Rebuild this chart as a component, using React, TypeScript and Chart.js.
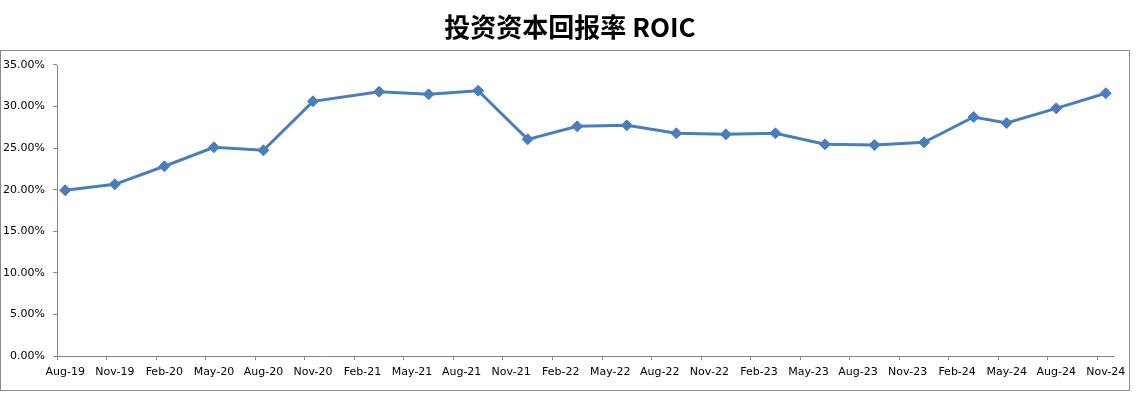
import React, { useEffect, useRef } from "react";
import { Chart, registerables } from "chart.js";

Chart.register(...registerables);

const chartTitle = "投资资本回报率 ROIC";

// x-axis tick labels (quarterly, Excel date axis with month base unit)
const xTickLabels = [
  "Aug-19", "Nov-19", "Feb-20", "May-20", "Aug-20", "Nov-20", "Feb-21", "May-21",
  "Aug-21", "Nov-21", "Feb-22", "May-22", "Aug-22", "Nov-22", "Feb-23", "May-23",
  "Aug-23", "Nov-23", "Feb-24", "May-24", "Aug-24", "Nov-24",
];

const yTickLabels = ["0.00%", "5.00%", "10.00%", "15.00%", "20.00%", "25.00%", "30.00%", "35.00%"];

// data periods (year, month) and ROIC values in %
const periods = [
  "2019-08", "2019-11", "2020-02", "2020-05", "2020-08", "2020-11", "2021-03", "2021-06",
  "2021-09", "2021-12", "2022-03", "2022-06", "2022-09", "2022-12", "2023-03", "2023-06",
  "2023-09", "2023-12", "2024-03", "2024-05", "2024-08", "2024-11",
];

const roicValues = [
  19.93, 20.65, 22.82, 25.1, 24.74, 30.63, 31.79, 31.47,
  31.91, 26.06, 27.62, 27.74, 26.78, 26.66, 26.78, 25.46,
  25.38, 25.7, 28.75, 28.02, 29.79, 31.6,
];

const axisStart = "2019-08";
const axisMonths = 64;

function monthIndex(p: string): number {
  const [y, m] = p.split("-").map(Number);
  const [y0, m0] = axisStart.split("-").map(Number);
  return (y - y0) * 12 + (m - m0);
}

const frameAndTitlePlugin = {
  id: "frameAndTitle",
  beforeDraw(chart: any) {
    const ctx = chart.ctx;
    ctx.save();
    ctx.fillStyle = "#ffffff";
    ctx.fillRect(0, 0, chart.width, chart.height);
    ctx.strokeStyle = "#8a8a8a";
    ctx.lineWidth = 1;
    ctx.strokeRect(0.5, 50.5, 1129, 340);
    ctx.fillStyle = "#000000";
    ctx.font = "bold 26px 'Noto Sans CJK SC', 'Noto Sans'";
    ctx.textAlign = "center";
    ctx.textBaseline = "middle";
    ctx.fillText(chartTitle, 570, 27);
    ctx.restore();
  },
};

export default function App() {
  const ref = useRef<HTMLCanvasElement | null>(null);

  useEffect(() => {
    if (!ref.current) return;
    const data = periods.map((p, i) => ({ x: monthIndex(p) + 0.5, y: roicValues[i] / 100 }));
    const xTickValues = xTickLabels.map((_, i) => i * 3);
    const yTickValues = yTickLabels.map((_, i) => i * 0.05);
    const chart = new Chart(ref.current, {
      type: "line",
      data: {
        datasets: [
          {
            label: "ROIC",
            data,
            borderColor: "#4a7ebb",
            backgroundColor: "#4a7ebb",
            borderWidth: 3,
            tension: 0,
            pointStyle: "rectRot",
            pointRadius: 5.5,
            pointBorderWidth: 1,
            pointBackgroundColor: "#4a7ebb",
            pointBorderColor: "#4a7ebb",
          },
        ],
      },
      options: {
        animation: false,
        responsive: false,
        layout: { padding: { top: 65, left: 0, right: 31, bottom: 13 } },
        plugins: {
          legend: { display: false },
          tooltip: { enabled: false },
          title: { display: false },
        },
        scales: {
          x: {
            type: "linear",
            min: 0,
            max: axisMonths,
            afterBuildTicks: (scale: any) => {
              scale.ticks = xTickValues.map((v) => ({ value: v }));
            },
            afterFit: (scale: any) => {
              scale.height = 30;
            },
            ticks: {
              autoSkip: false,
              maxRotation: 0,
              minRotation: 0,
              labelOffset: 8.26,
              padding: 6,
              color: "#000000",
              font: { family: "'DejaVu Sans'", size: 11 },
              callback: (_v: any, i: number) => xTickLabels[i],
            },
            grid: { display: true, drawOnChartArea: false, drawTicks: true, tickLength: 4, color: "#868686" },
            border: { display: true, color: "#868686", width: 1 },
          },
          y: {
            type: "linear",
            min: 0,
            max: 0.35,
            afterBuildTicks: (scale: any) => {
              scale.ticks = yTickValues.map((v) => ({ value: v }));
            },
            afterFit: (scale: any) => {
              scale.width = 57;
            },
            ticks: {
              padding: 8,
              color: "#000000",
              font: { family: "'DejaVu Sans'", size: 11 },
              callback: (_v: any, i: number) => yTickLabels[i],
            },
            grid: { display: true, drawOnChartArea: false, drawTicks: true, tickLength: 4, color: "#868686" },
            border: { display: true, color: "#868686", width: 1 },
          },
        },
      },
      plugins: [frameAndTitlePlugin],
    } as any);
    return () => chart.destroy();
  }, []);

  return (
    <div style={{ position: "absolute", left: 0, top: 0, width: 1145, height: 399 }}>
      <canvas ref={ref} width={1145} height={399} />
    </div>
  );
}
